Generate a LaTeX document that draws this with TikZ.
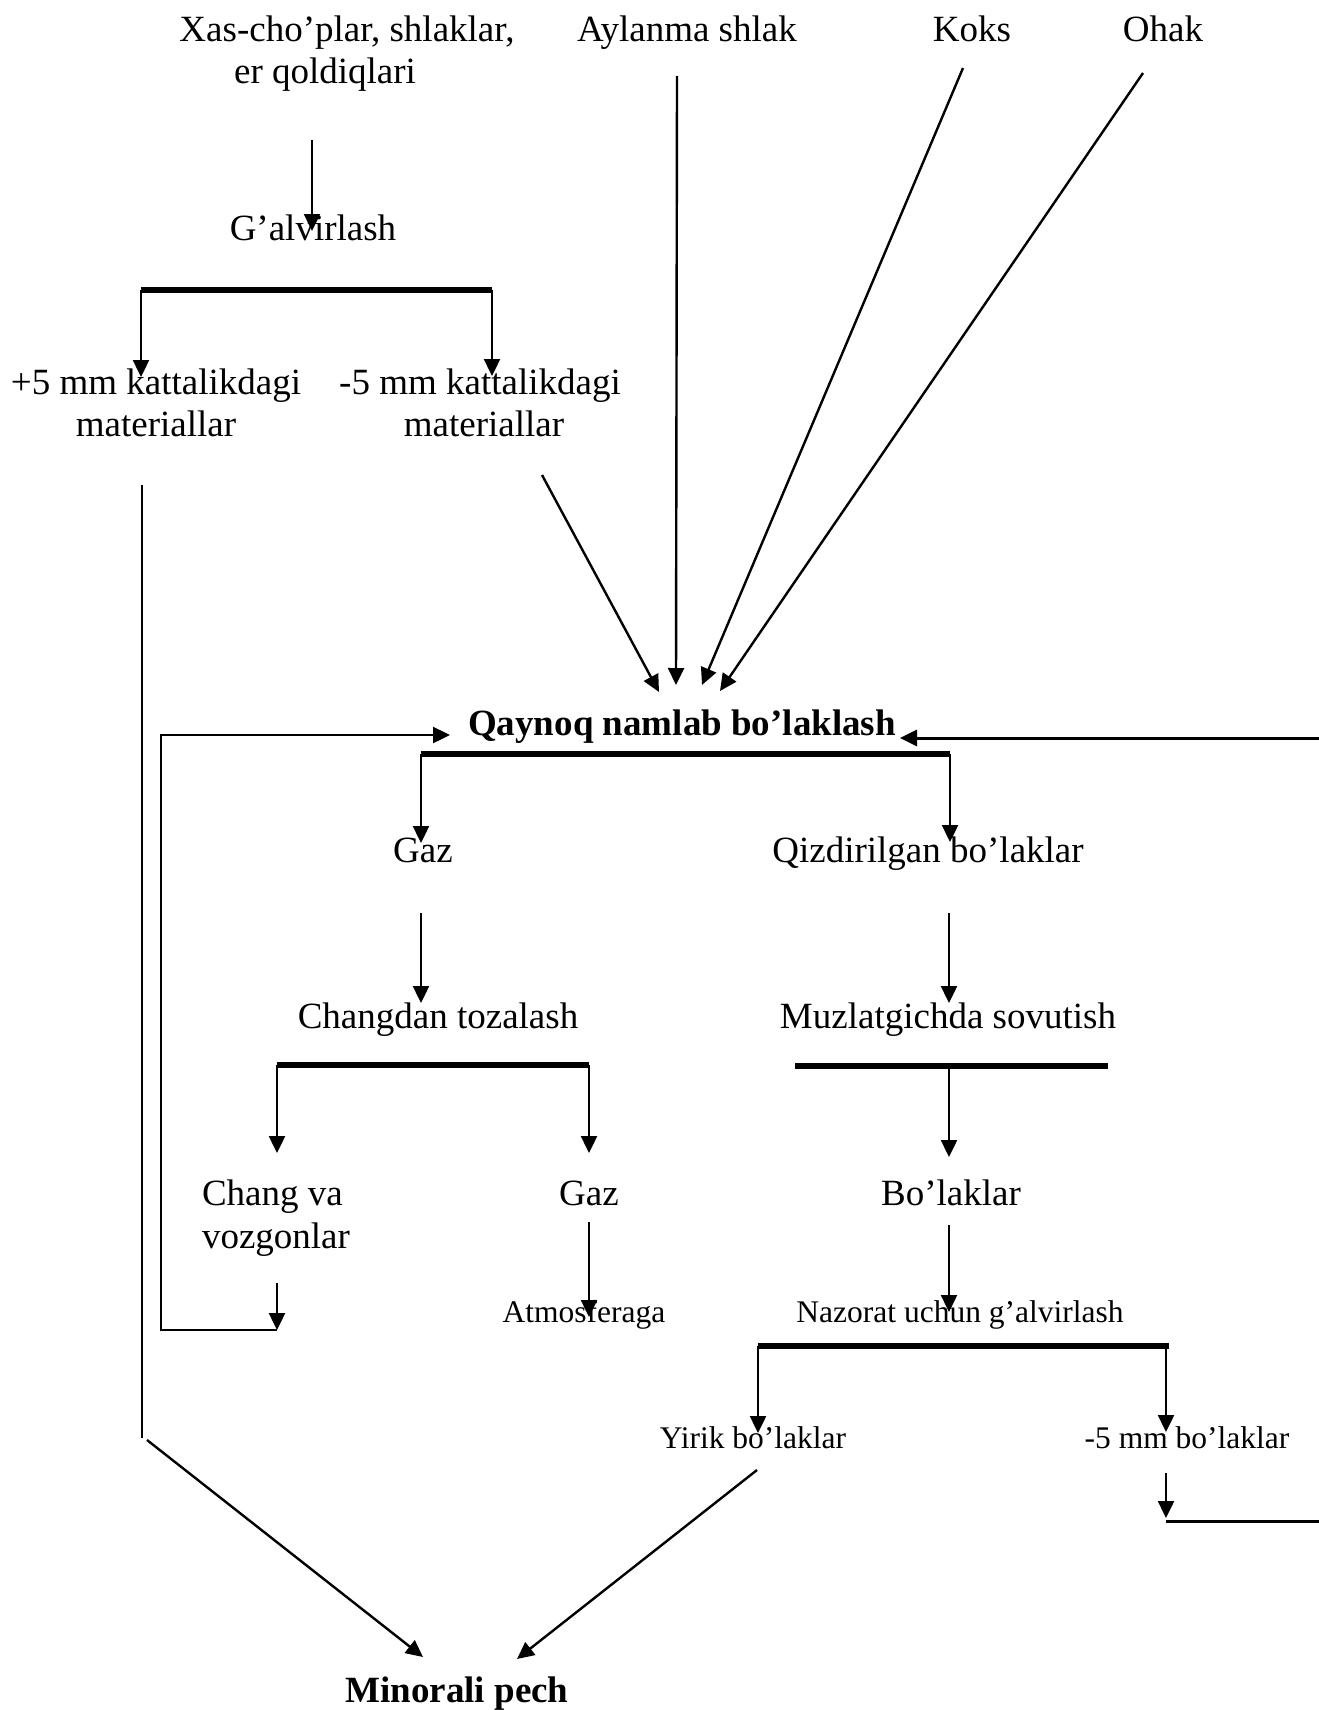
\documentclass[tikz,border=0pt]{standalone}
\usepackage{fontspec}
\setmainfont{Liberation Serif}
\usetikzlibrary{arrows.meta}
\tikzset{
  txt/.style={inner sep=0pt, outer sep=0pt, anchor=base, font=\fontsize{37}{43}\selectfont},
  txtl/.style={txt, anchor=base west},
  sm/.style={inner sep=0pt, outer sep=0pt, anchor=base, font=\fontsize{31.5}{37}\selectfont},
  bold/.style={inner sep=0pt, outer sep=0pt, anchor=base, font=\fontsize{37}{43}\selectfont\bfseries},
  tip/.style={-{Triangle[length=17pt,width=16pt]}},
  ln/.style={line width=2.4pt},
  arr/.style={line width=2.4pt, tip},
  bar/.style={line width=5.5pt},
  feed/.style={line width=3pt}
}
\begin{document}
\begin{tikzpicture}[x=1pt,y=-1pt]
\useasboundingbox (0,0) rectangle (1319,1710);

% ---- text nodes ----
\node[txt] (xasA) at (347,42) {Xas-cho’plar, shlaklar,};
\node[txt] (xasB) at (325,84) {er qoldiqlari};
\node[txt] (ayl) at (687,42) {Aylanma shlak};
\node[txt] (koks) at (972,42) {Koks};
\node[txt] (ohak) at (1163,42) {Ohak};
\node[txt] (galv) at (313,240) {G’alvirlash};
\node[txt] (p5A) at (156,394) {+5 mm kattalikdagi};
\node[txt] (p5B) at (156,436) {materiallar};
\node[txt] (m5A) at (480,394) {-5 mm kattalikdagi};
\node[txt] (m5B) at (484,436) {materiallar};
\node[bold] (qay) at (682,735) {Qaynoq namlab bo’laklash};
\node[txt] (gazA) at (423,862) {Gaz};
\node[txt] (qiz) at (928,862) {Qizdirilgan bo’laklar};
\node[txt] (chd) at (438,1028) {Changdan tozalash};
\node[txt] (muz) at (948,1028) {Muzlatgichda sovutish};
\node[txtl] (chA) at (202,1205) {Chang va};
\node[txtl] (chB) at (202,1248) {vozgonlar};
\node[txt] (gazB) at (589,1205) {Gaz};
\node[txt] (bol) at (951,1205) {Bo’laklar};
\node[sm] (atm) at (584,1322) {Atmosferaga};
\node[sm] (naz) at (960,1322) {Nazorat uchun g’alvirlash};
\node[sm] (yir) at (753,1448) {Yirik bo’laklar};
\node[sm] (m5s) at (1187,1448) {-5 mm bo’laklar};
\node[bold] (min) at (457,1702) {Minorali pech};

% ---- connector end points ----
\coordinate (c1s) at (312,140);  \coordinate (c1e) at (312,231);
\coordinate (b1L) at (141,290);  \coordinate (b1R) at (492,290);
\coordinate (b1Le) at (141,377); \coordinate (b1Re) at (492,376);
\coordinate (p5s) at (142,485);  \coordinate (p5e) at (142,1438);
\coordinate (p5d) at (147,1440); \coordinate (minL) at (423,1657);
\coordinate (m5s0) at (542,475); \coordinate (qay1) at (659,692);
\coordinate (ayls) at (677,76);  \coordinate (qay2) at (676,685);
\coordinate (koks0) at (963,68); \coordinate (qay3) at (702,685);
\coordinate (ohak0) at (1143,73);\coordinate (qay4) at (720,691);
\coordinate (lpA) at (277,1330); \coordinate (lpB) at (161,1330);
\coordinate (lpC) at (161,735);  \coordinate (qayL) at (450,735);
\coordinate (chs) at (277,1283);
\coordinate (rpA) at (1319,738); \coordinate (qayR) at (900,738);
\coordinate (b2L) at (421,754);  \coordinate (b2R) at (950,754);
\coordinate (b2Le) at (421,843); \coordinate (b2Re) at (950,842);
\coordinate (g1s) at (421,913);  \coordinate (g1e) at (421,1003);
\coordinate (q1s) at (949,913);  \coordinate (q1e) at (949,1003);
\coordinate (b3L) at (277,1065); \coordinate (b3R) at (589,1065);
\coordinate (b3Le) at (277,1153);\coordinate (b3Re) at (589,1153);
\coordinate (b4L) at (795,1066); \coordinate (b4R) at (1108,1066);
\coordinate (b4M) at (949,1066); \coordinate (b4Me) at (949,1157);
\coordinate (g2s) at (589,1222); \coordinate (g2e) at (589,1317);
\coordinate (bos) at (949,1225); \coordinate (boe) at (949,1312);
\coordinate (b5L) at (758,1346); \coordinate (b5R) at (1169,1346);
\coordinate (b5Le) at (758,1433);\coordinate (b5Rx) at (1166,1346);
\coordinate (b5Re) at (1166,1432);
\coordinate (yis) at (757,1470); \coordinate (minR) at (517,1659);
\coordinate (m5ss) at (1166,1473);\coordinate (m5se) at (1166,1518);
\coordinate (rbA) at (1166,1521);\coordinate (rbB) at (1319,1521);

% ---- connectors ----
\draw[arr] (c1s) -- (c1e);
\draw[bar] (b1L) -- (b1R);
\draw[arr] (b1L) -- (b1Le);
\draw[arr] (b1R) -- (b1Re);
\draw[ln] (p5s) -- (p5e);
\draw[arr] (p5d) -- (minL);
\draw[arr] (m5s0) -- (qay1);
\draw[arr] (ayls) -- (qay2);
\draw[arr] (koks0) -- (qay3);
\draw[arr] (ohak0) -- (qay4);
\draw[arr] (lpA) -- (lpB) -- (lpC) -- (qayL);
\draw[arr] (chs) -- (lpA);
\draw[feed, tip] (rpA) -- (qayR);
\draw[bar] (b2L) -- (b2R);
\draw[arr] (b2L) -- (b2Le);
\draw[arr] (b2R) -- (b2Re);
\draw[arr] (g1s) -- (g1e);
\draw[arr] (q1s) -- (q1e);
\draw[bar] (b3L) -- (b3R);
\draw[arr] (b3L) -- (b3Le);
\draw[arr] (b3R) -- (b3Re);
\draw[bar] (b4L) -- (b4R);
\draw[arr] (b4M) -- (b4Me);
\draw[arr] (g2s) -- (g2e);
\draw[arr] (bos) -- (boe);
\draw[bar] (b5L) -- (b5R);
\draw[arr] (b5L) -- (b5Le);
\draw[arr] (b5Rx) -- (b5Re);
\draw[arr] (yis) -- (minR);
\draw[arr] (m5ss) -- (m5se);
\draw[feed] (rbA) -- (rbB);
\end{tikzpicture}
\end{document}
